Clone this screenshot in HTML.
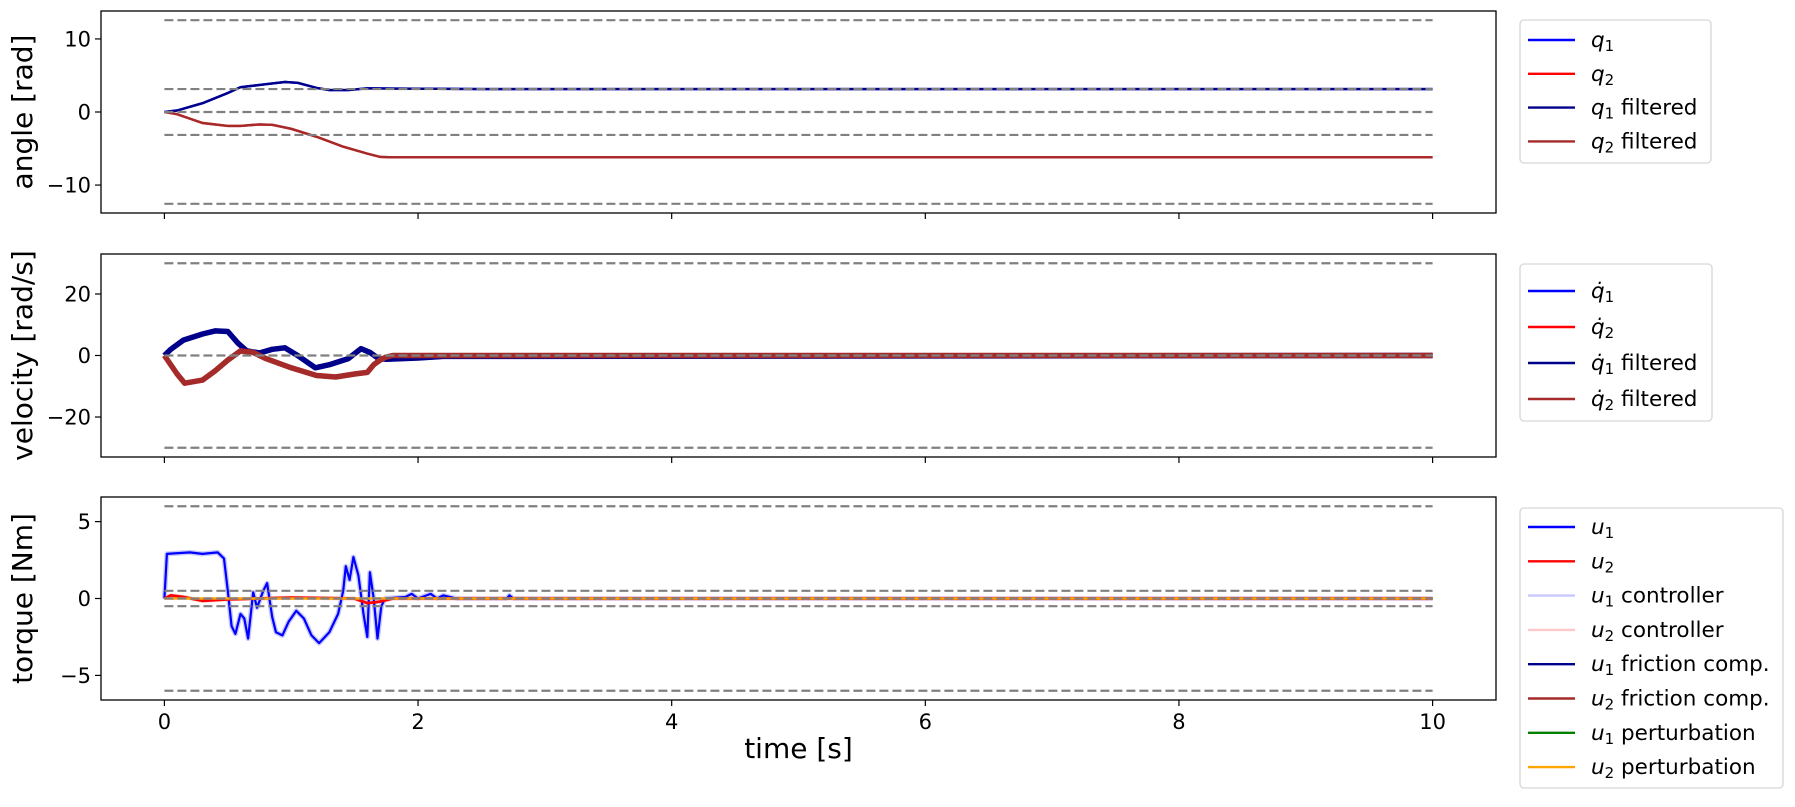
<!DOCTYPE html>
<html><head><meta charset="utf-8"><style>
body{margin:0;background:#fff}
svg text{font-family:"DejaVu Sans","Liberation Sans",sans-serif;fill:#000}
</style></head><body>
<svg id="fig" width="1795" height="802" viewBox="0 0 1795 802" xmlns="http://www.w3.org/2000/svg"></svg>
<script>
// ---- data ----
const xTicks=[0,2,4,6,8,10];
const angleTicks=[10,0,-10];
const velTicks=[20,0,-20];
const torqueTicks=[5,0,-5];
const angleLimits=[12.566,3.1416,0,-3.1416,-12.566];
const velLimits=[30,0,-30];
const torqueLimits=[6,0.5,0,-0.5,-6];
const q1T=[0,0.1,0.3,0.5,0.6,0.8,0.95,1.05,1.2,1.3,1.45,1.6,1.8,2.5,10];
const q1V=[0,0.2,1.2,2.6,3.4,3.8,4.1,4.0,3.3,3.0,3.0,3.25,3.2,3.14,3.14];
const q2T=[0,0.1,0.3,0.5,0.6,0.75,0.85,1.0,1.2,1.4,1.6,1.7,1.8,10];
const q2V=[0,-0.3,-1.5,-1.9,-1.9,-1.7,-1.75,-2.3,-3.4,-4.7,-5.7,-6.15,-6.2,-6.2];
const dq1T=[0,0.05,0.15,0.3,0.4,0.5,0.58,0.65,0.75,0.85,0.95,1.05,1.19,1.3,1.45,1.55,1.62,1.69,1.75,2.0,2.2,10];
const dq1V=[0,2,5,7,8,7.8,4,1.5,0.8,2,2.5,0,-4,-3,-1,2.2,1,-1,-1.2,-0.8,-0.3,0];
const dq2T=[0,0.1,0.16,0.3,0.4,0.5,0.6,0.7,0.8,0.9,1.0,1.2,1.35,1.5,1.6,1.65,1.7,1.75,1.8,10];
const dq2V=[0,-6,-9,-8,-5,-1.5,1.5,1,-1,-2.5,-4,-6.5,-7,-6,-5.5,-3,-1.5,-0.5,0,0];
const u1T=[0,0.02,0.2,0.3,0.42,0.47,0.5,0.53,0.56,0.6,0.63,0.66,0.7,0.73,0.78,0.81,0.85,0.88,0.93,0.98,1.04,1.1,1.16,1.22,1.3,1.37,1.41,1.43,1.46,1.49,1.53,1.57,1.6,1.62,1.65,1.68,1.71,1.74,1.9,1.95,2.0,2.1,2.15,2.2,2.3,2.7,2.72,2.75,10];
const u1V=[0,2.9,3.0,2.9,3.0,2.6,0.5,-1.8,-2.3,-1.0,-1.3,-2.6,0.4,-0.6,0.5,1.0,-1.2,-2.2,-2.4,-1.5,-0.8,-1.3,-2.4,-2.9,-2.2,-1.0,0.5,2.1,1.2,2.7,1.5,-1.0,-2.5,1.7,0,-2.6,-0.5,0,0.1,0.3,0,0.3,0,0.2,0,0,0.2,0,0];
const u2T=[0,0.05,0.15,0.3,0.5,1.0,1.5,1.6,1.7,1.8,10];
const u2V=[0,0.2,0.1,-0.15,-0.05,0.05,0,-0.3,-0.2,0,0];
const zeroT=[0,10];
const zeroV=[0,0];

// ---- layout ----
const svg=document.getElementById('fig');
const NS='http://www.w3.org/2000/svg';
const L=101,R=1496;
const xs=t=>L+(t+0.5)/11*(R-L);
function mk(tag,attrs,parent){const e=document.createElementNS(NS,tag);for(const k in attrs)e.setAttribute(k,attrs[k]);(parent||svg).appendChild(e);return e;}
function makeAxis(top,bot,lim){return v=>top+(lim-v)/(2*lim)*(bot-top);}
const panels=[
 {name:'angle',top:11,bot:213,lim:13.823,ticks:angleTicks,limits:angleLimits,label:'angle [rad]'},
 {name:'velocity',top:254,bot:457,lim:33,ticks:velTicks,limits:velLimits,label:'velocity [rad/s]'},
 {name:'torque',top:497,bot:700,lim:6.6,ticks:torqueTicks,limits:torqueLimits,label:'torque [Nm]'}
];
panels.forEach(p=>p.ys=makeAxis(p.top,p.bot,p.lim));
function series(p,T,V,color,w,name,op){
 let d='';T.forEach((t,i)=>{d+=(i?'L':'M')+xs(t).toFixed(1)+' '+p.ys(V[i]).toFixed(1);});
 const e=mk('path',{d:d,fill:'none',stroke:color,'stroke-width':w,'stroke-linejoin':'round',opacity:op||1},p.g);
 
 
}
panels.forEach((p,pi)=>{
 const g=mk('g',{});
 
 
 p.g=g;
 if(pi===0){series(p,q1T,q1V,'#0000ff',2.4,'q1-line');series(p,q2T,q2V,'#ff0000',2.4,'q2-line');series(p,q1T,q1V,'#00008b',2.4,'q1-filtered-line');series(p,q2T,q2V,'#a52a2a',2.4,'q2-filtered-line');}
 if(pi===1){series(p,dq1T,dq1V,'#0000ff',5,'dq1-line');series(p,dq2T,dq2V,'#ff0000',5,'dq2-line');series(p,dq1T,dq1V,'#00008b',5.5,'dq1-filtered-line');series(p,dq2T,dq2V,'#a52a2a',5.5,'dq2-filtered-line');}
 if(pi===2){series(p,u1T,u1V,'#c8c8ff',5,'u1-controller-line');series(p,u2T,u2V,'#ffc8c8',4,'u2-controller-line');series(p,u1T,u1V,'#0000ff',2.2,'u1-line');series(p,u2T,u2V,'#ff0000',2.8,'u2-line');series(p,zeroT,zeroV,'#00008b',2,'u1-friction-line');series(p,zeroT,zeroV,'#a52a2a',2,'u2-friction-line');series(p,zeroT,zeroV,'#008000',2,'u1-perturbation-line');series(p,zeroT,zeroV,'#ffa500',2.5,'u2-perturbation-line');}
 p.limits.forEach(v=>{
  const e=mk('line',{x1:xs(0),x2:xs(10),y1:p.ys(v),y2:p.ys(v),stroke:'#808080','stroke-width':2.2,'stroke-dasharray':'9,4'},g);
  
  
 });
 const fr=mk('rect',{x:L,y:p.top,width:R-L,height:p.bot-p.top,fill:'none',stroke:'#000','stroke-width':1.3},g);
 
 
 p.ticks.forEach(v=>{
  const y=p.ys(v);
  mk('line',{x1:L-6,x2:L,y1:y,y2:y,stroke:'#000','stroke-width':1.2},g);
  const t=mk('text',{x:L-10,y:y+7.5,'text-anchor':'end','font-size':21},g);
  t.textContent=(v<0?'\u2212':'')+Math.abs(v);
  
  
 });
 xTicks.forEach(v=>{
  const x=xs(v);
  mk('line',{x1:x,x2:x,y1:p.bot,y2:p.bot+6,stroke:'#000','stroke-width':1.2},g);
  if(pi===2){const t=mk('text',{x:x,y:p.bot+29,'text-anchor':'middle','font-size':21},g);t.textContent=v;
   
   }
 });
 const cy=(p.top+p.bot)/2;
 const yl=mk('text',{x:0,y:0,'text-anchor':'middle','font-size':28,transform:`translate(32 ${cy}) rotate(-90)`},g);
 yl.textContent=p.label;
 
 
});
const xl=mk('text',{x:xs(5),y:758,'text-anchor':'middle','font-size':28});
xl.textContent='time [s]';



// ---- legends ----
function legend(x,y,w,h,rowY,gap,items,name){
 const g=mk('g',{});
 
 
 mk('rect',{x:x,y:y,width:w,height:h,rx:4,fill:'#fff',stroke:'#d6d6d6','stroke-width':1.3},g);
 items.forEach((it,i)=>{
  const yy=rowY+i*gap;
  mk('line',{x1:x+8,x2:x+55,y1:yy,y2:yy,stroke:it[0],'stroke-width':2.4},g);
  const t=mk('text',{x:x+71,y:yy+7,'font-size':21.5},g);
  const sym=mk('tspan',{'font-style':'italic'},t);sym.textContent=it[1];
  const sub=mk('tspan',{'font-size':15,dy:4},t);sub.textContent=it[2];
  if(it[3]){const r=mk('tspan',{dy:-4},t);r.textContent=' '+it[3];}
  
  
 });
}
legend(1520,20,191,143,40,33.8,[['#0000ff','q','1'],['#ff0000','q','2'],['#00008b','q','1','filtered'],['#a52a2a','q','2','filtered']],'angle-legend');
legend(1520,264,192,157,291,36,[['#0000ff','q\u0307','1'],['#ff0000','q\u0307','2'],['#00008b','q\u0307','1','filtered'],['#a52a2a','q\u0307','2','filtered']],'velocity-legend');
legend(1520,508,263,280,527,34.3,[['#0000ff','u','1'],['#ff0000','u','2'],['#c8c8ff','u','1','controller'],['#ffc8c8','u','2','controller'],['#00008b','u','1','friction comp.'],['#a52a2a','u','2','friction comp.'],['#008000','u','1','perturbation'],['#ffa500','u','2','perturbation']],'torque-legend');
</script>
</body></html>
